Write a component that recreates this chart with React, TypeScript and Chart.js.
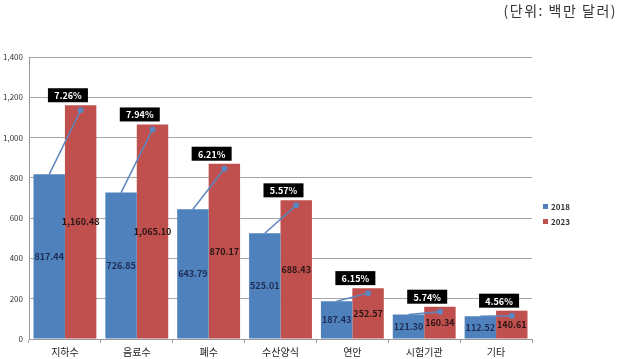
import React, { useEffect, useRef } from "react";
import { Chart, registerables } from "chart.js";

Chart.register(...registerables);

const categories = ["지하수", "음료수", "폐수", "수산양식", "연안", "시험기관", "기타"];
const values2018 = [817.44, 726.85, 643.79, 525.01, 187.43, 121.3, 112.52];
const values2023 = [1160.48, 1065.1, 870.17, 688.43, 252.57, 160.34, 140.61];
const growthLabels = ["7.26%", "7.94%", "6.21%", "5.57%", "6.15%", "5.74%", "4.56%"];
const seriesNames = ["2018", "2023"];
const unitText = "(단위: 백만 달러)";

const BLUE = "#4F81BD";
const RED = "#C0504D";
const FONT = "'Noto Sans CJK KR', 'Noto Sans', sans-serif";

const fmt = (v: number) =>
  v.toLocaleString("en-US", { minimumFractionDigits: 2, maximumFractionDigits: 2 });

const overlayPlugin = {
  id: "overlay",
  afterDatasetsDraw(chart: any) {
    const ctx = chart.ctx;
    const m0 = chart.getDatasetMeta(0);
    const m1 = chart.getDatasetMeta(1);
    ctx.save();
    // value labels
    ctx.font = `bold 9px ${FONT}`;
    ctx.textAlign = "center";
    ctx.textBaseline = "middle";
    m0.data.forEach((b: any, i: number) => {
      ctx.fillStyle = "#1E2B52";
      ctx.fillText(fmt(values2018[i]), b.x, (b.y + b.base) / 2);
    });
    m1.data.forEach((b: any, i: number) => {
      ctx.fillStyle = "#2A1515";
      ctx.fillText(fmt(values2023[i]), b.x, (b.y + b.base) / 2);
    });
    // growth arrows and boxes
    m0.data.forEach((b: any, i: number) => {
      const r = m1.data[i];
      const ex = r.x;
      const ey = r.y + 5;
      ctx.strokeStyle = "#5B86C0";
      ctx.lineWidth = 1.5;
      ctx.beginPath();
      ctx.moveTo(b.x, b.y);
      ctx.lineTo(ex, ey);
      ctx.stroke();
      ctx.fillStyle = "#5B86C0";
      ctx.beginPath();
      ctx.arc(ex, ey, 3, 0, Math.PI * 2);
      ctx.fill();
      const cx = b.x + b.width / 2 + 3;
      const bh = 14;
      const bw = 40;
      const by = r.y - 3 - bh;
      ctx.fillStyle = "#000000";
      ctx.fillRect(cx - bw / 2, by, bw, bh);
      ctx.fillStyle = "#FFFFFF";
      ctx.font = `bold 9px ${FONT}`;
      ctx.fillText(growthLabels[i], cx, by + bh / 2 + 0.5);
    });
    // legend
    const colors = [BLUE, RED];
    seriesNames.forEach((n, i) => {
      const y = 207 + i * 15;
      ctx.fillStyle = colors[i];
      ctx.fillRect(543, y - 3, 5, 5);
      ctx.fillStyle = "#333333";
      ctx.font = `bold 8px ${FONT}`;
      ctx.textAlign = "left";
      ctx.fillText(n, 551, y);
    });
    // unit text
    ctx.fillStyle = "#333333";
    ctx.font = `14px ${FONT}`;
    ctx.textAlign = "right";
    try { (ctx as any).letterSpacing = "1.5px"; } catch (e) {}
    ctx.fillText(unitText, 617, 11);
    try { (ctx as any).letterSpacing = "0px"; } catch (e) {}
    ctx.restore();
  },
};

export default function App() {
  const ref = useRef<HTMLCanvasElement | null>(null);
  useEffect(() => {
    if (!ref.current) return;
    const chart = new Chart(ref.current, {
      type: "bar",
      data: {
        labels: categories,
        datasets: [
          { label: seriesNames[0], data: values2018, backgroundColor: BLUE, barPercentage: 1, categoryPercentage: 0.875 },
          { label: seriesNames[1], data: values2023, backgroundColor: RED, barPercentage: 1, categoryPercentage: 0.875 },
        ],
      },
      options: {
        responsive: false,
        animation: false,
        layout: { padding: { top: 57, right: 87, left: 0, bottom: 0 } },
        plugins: { legend: { display: false }, tooltip: { enabled: false } },
        scales: {
          x: {
            grid: { drawOnChartArea: false, offset: true, tickLength: 4, color: "#999999" },
            border: { color: "#999999" },
            ticks: { color: "#222222", font: { family: FONT, size: 10 }, padding: 3 },
            afterFit: (s: any) => { s.height = 20; },
          },
          y: {
            min: 0,
            max: 1400,
            ticks: {
              stepSize: 200,
              color: "#333333",
              font: { family: FONT, size: 8 },
              padding: 6,
              callback: (v: any) => Number(v).toLocaleString("en-US"),
            },
            grid: { color: "#A6A6A6", drawTicks: false },
            border: { color: "#999999" },
            afterFit: (s: any) => { s.width = 29; },
          },
        },
      },
      plugins: [overlayPlugin],
    });
    return () => chart.destroy();
  }, []);
  return (
    <div style={{ position: "absolute", left: 0, top: 0, width: 619, height: 359, background: "#fff" }}>
      <canvas ref={ref} width={619} height={359} />
    </div>
  );
}
